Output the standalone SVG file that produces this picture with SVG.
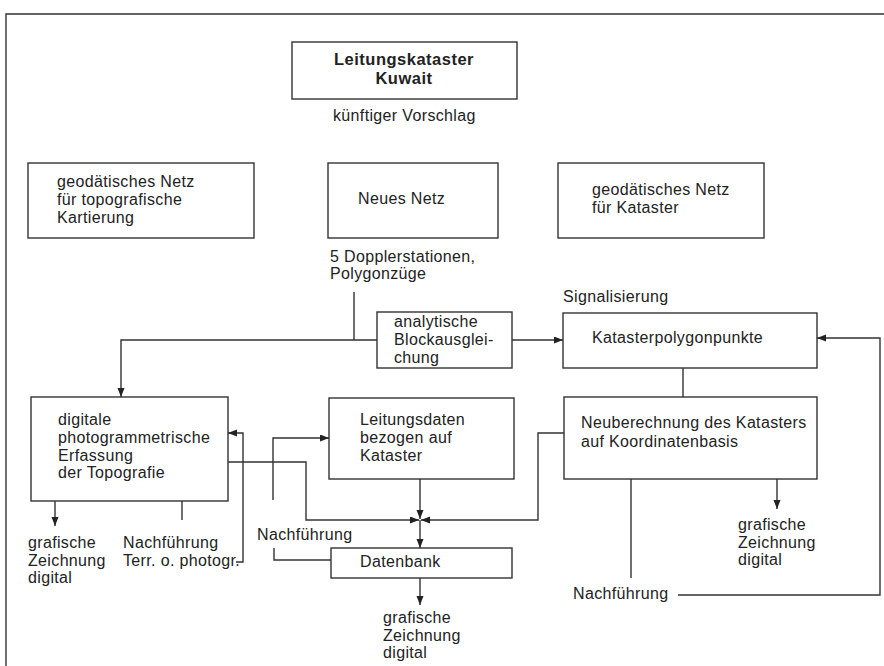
<svg xmlns="http://www.w3.org/2000/svg" width="884" height="666" viewBox="0 0 884 666">
<style>
  .box { fill: #fff; stroke: #333; stroke-width: 1.4; }
  .t { font-family: "Liberation Sans", Arial, sans-serif; font-size: 16px; letter-spacing: 0.35px; fill: #222; }
  .b { font-weight: bold; font-size: 16.5px; letter-spacing: 0.5px; text-anchor: middle; }
  .c { fill: none; stroke: #333; stroke-width: 1.4; }
  .a { marker-end: url(#arr); }
</style>
<defs>
  <marker id="arr" markerUnits="userSpaceOnUse" markerWidth="10" markerHeight="8" refX="9" refY="3.5" orient="auto">
    <path d="M0,0 L9,3.5 L0,7 z" fill="#222"/>
  </marker>
</defs>
<rect width="884" height="666" fill="#fff"/>
<g id="frame"><path class="c" d="M6,666 V14 H884"/></g>

<g id="title">
  <rect class="box" x="292" y="42" width="225" height="57"/>
  <text class="t b" x="404" y="65">Leitungskataster</text>
  <text class="t b" x="404" y="84">Kuwait</text>
  <text class="t" x="333" y="121">künftiger Vorschlag</text>
</g>

<g id="netz-topo">
  <rect class="box" x="28" y="163" width="226" height="75"/>
  <text class="t" x="57" y="187">geodätisches Netz</text>
  <text class="t" x="57" y="205">für topografische</text>
  <text class="t" x="57" y="223">Kartierung</text>
</g>

<g id="neues-netz">
  <rect class="box" x="328" y="163" width="170" height="75"/>
  <text class="t" x="358" y="204">Neues Netz</text>
  <text class="t" x="330" y="262">5 Dopplerstationen,</text>
  <text class="t" x="330" y="279">Polygonzüge</text>
</g>

<g id="netz-kataster">
  <rect class="box" x="558" y="163" width="206" height="75"/>
  <text class="t" x="592" y="195">geodätisches Netz</text>
  <text class="t" x="592" y="213">für Kataster</text>
</g>

<g id="blockausgleichung">
  <rect class="box" x="377" y="312" width="135" height="56"/>
  <text class="t" x="394" y="327">analytische</text>
  <text class="t" x="394" y="345">Blockausglei-</text>
  <text class="t" x="394" y="363">chung</text>
</g>

<g id="katasterpolygonpunkte">
  <text class="t" x="563" y="302">Signalisierung</text>
  <rect class="box" x="563" y="313" width="254" height="55"/>
  <text class="t" x="592" y="343">Katasterpolygonpunkte</text>
</g>

<g id="digitale-erfassung">
  <rect class="box" x="31" y="397" width="197" height="104"/>
  <text class="t" x="58" y="425">digitale</text>
  <text class="t" x="58" y="443">photogrammetrische</text>
  <text class="t" x="58" y="461">Erfassung</text>
  <text class="t" x="58" y="478">der Topografie</text>
</g>

<g id="leitungsdaten">
  <rect class="box" x="329" y="398" width="185" height="81"/>
  <text class="t" x="360" y="425">Leitungsdaten</text>
  <text class="t" x="360" y="443">bezogen auf</text>
  <text class="t" x="360" y="461">Kataster</text>
</g>

<g id="neuberechnung">
  <rect class="box" x="564" y="397" width="253" height="82"/>
  <text class="t" x="581" y="428">Neuberechnung des Katasters</text>
  <text class="t" x="581" y="447">auf Koordinatenbasis</text>
</g>

<g id="datenbank">
  <rect class="box" x="331" y="548" width="181" height="30"/>
  <text class="t" x="360" y="567">Datenbank</text>
</g>

<g id="labels">
  <text class="t" x="28" y="548">grafische</text>
  <text class="t" x="28" y="566">Zeichnung</text>
  <text class="t" x="28" y="583">digital</text>
  <text class="t" x="123" y="548">Nachführung</text>
  <text class="t" x="123" y="566">Terr. o. photogr.</text>
  <text class="t" x="257" y="540">Nachführung</text>
  <text class="t" x="383" y="623">grafische</text>
  <text class="t" x="383" y="641">Zeichnung</text>
  <text class="t" x="383" y="658">digital</text>
  <text class="t" x="738" y="530">grafische</text>
  <text class="t" x="738" y="548">Zeichnung</text>
  <text class="t" x="738" y="565">digital</text>
  <text class="t" x="573" y="599">Nachführung</text>
</g>

<g id="connectors">
  <path class="c" d="M354,292 V340"/>
  <path class="c a" d="M377,340 H121 V397"/>
  <path class="c a" d="M512,340 H563"/>
  <path class="c a" d="M678,595 H880 V338 H817"/>
  <path class="c" d="M683,368 V397"/>
  <path class="c a" d="M564,433 H538 V520 H421"/>
  <path class="c a" d="M420,479 V519"/>
  <path class="c a" d="M228,462 H306 V520 H419"/>
  <path class="c a" d="M420,520 V548"/>
  <path class="c a" d="M273,500 V438 H329"/>
  <path class="c" d="M274,548 V560 H331"/>
  <path class="c a" d="M236,562 H243 V433 H228"/>
  <path class="c a" d="M55,501 V526"/>
  <path class="c" d="M182,501 V520"/>
  <path class="c a" d="M420,578 V605"/>
  <path class="c a" d="M777,479 V509"/>
  <path class="c" d="M631,479 V578"/>
</g>
</svg>
